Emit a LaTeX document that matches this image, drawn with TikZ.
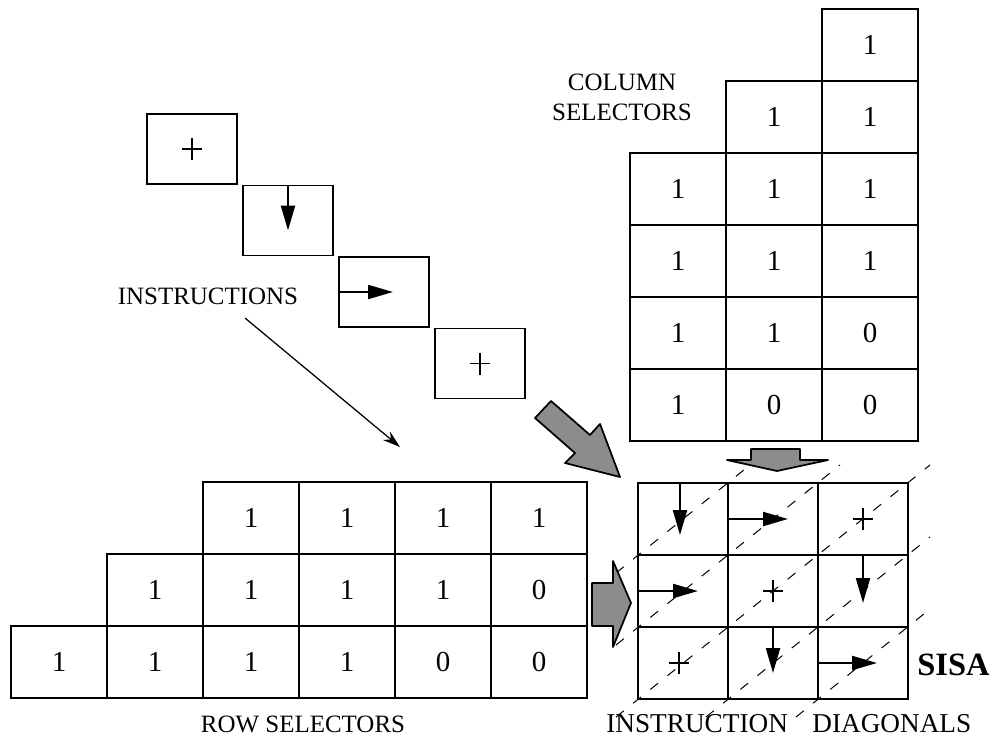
\documentclass[tikz,border=0pt]{standalone}
\usepackage{fontspec}
\setmainfont{Liberation Serif}
\usetikzlibrary{arrows.meta,calc}
\begin{document}
\begin{tikzpicture}[x=0.2mm,y=-0.2mm]
            \tikzset{
                selcell/.style={draw, line width=0.35mm, minimum width=19.2mm, minimum height=14.4mm,
                    inner sep=0pt, outer sep=0pt, font=\fontsize{16.5}{16.5}\selectfont},
                sisacell/.style={selcell, minimum width=18mm},
                instrbox/.style={draw, line width=0.3mm, minimum width=18mm, minimum height=14mm,
                    inner sep=0pt, outer sep=0pt},
                txt/.style={font=\fontsize{14.2}{17}\selectfont, inner sep=0pt, align=center},
                move/.style={line width=0.45mm, -{Triangle[length=5mm,width=2.8mm]}},
                diagline/.style={line width=0.2mm, dash pattern=on 2mm off 2.4mm},
                bigarrow/.style={draw, line width=0.35mm, fill=black!45, line join=round},
                plus/.pic={\draw[line width=0.25mm] (-10,0) -- (10,0) (0,-11) -- (0,11);}}
            \useasboundingbox (0,0) rectangle (993,740);
            % instruction stream
            \foreach \k in {0,...,3}
                \node[instrbox] (ins-\k) at (192+96*\k, 149+71.5*\k) {};
            \pic at (ins-0) {plus};
            \draw[move] (ins-1.north) -- ++(0,45);
            \draw[move] (ins-2.west) -- ++(54,0);
            \pic at (ins-3) {plus};
            \node[txt] (instr-label) at (208,296) {INSTRUCTIONS};
            \coordinate (instr-target) at (400,447);
            \draw[line width=0.25mm, -{Stealth[length=3.5mm,width=2.2mm]}] ([shift={(37,22)}]instr-label.center) -- (instr-target);
            % selectors
            \foreach \vals [count=\r from 0] in {{-,-,1,1,1,1},{-,1,1,1,1,0},{1,1,1,1,0,0}}
                \foreach \v [count=\c from 0] in \vals {
                    \if\v- \else \node[selcell] (row-\r-\c) at (59+96*\c, 518+72*\r) {\v}; \fi}
            \foreach \vals [count=\r from 0] in {{-,-,1},{-,1,1},{1,1,1},{1,1,1},{1,1,0},{1,0,0}}
                \foreach \v [count=\c from 0] in \vals {
                    \if\v- \else \node[selcell] (col-\r-\c) at (678+96*\c, 45+72*\r) {\v}; \fi}
            \node[txt] (col-label) at (622,97) {COLUMN\\SELECTORS};
            \node[txt] (row-label) at (303,724) {ROW SELECTORS};
            % SISA array
            \foreach \r in {0,1,2}
                \foreach \c in {0,1,2}
                    \node[sisacell] (sisa-\r-\c) at (683+90*\c, 519+72*\r) {};
            \draw[move] ([xshift=-0.6mm]sisa-0-0.north) -- ++(0,52);
            \draw[move] (sisa-0-1.west) -- ++(60,0);
            \pic at (sisa-0-2) {plus};
            \draw[move] (sisa-1-0.west) -- ++(60,0);
            \pic at (sisa-1-1) {plus};
            \draw[move] (sisa-1-2.north) -- ++(0,48);
            \pic at ([xshift=-0.8mm]sisa-2-0) {plus};
            \draw[move] (sisa-2-1.north) -- ++(0,46);
            \draw[move] (sisa-2-2.west) -- ++(59,0);
            \foreach \d in {1,...,5}{
                \pgfmathtruncatemacro\ia{max(0,\d-3)}
                \pgfmathtruncatemacro\ib{min(3,\d)}
                \draw[diagline] (638+90*\ia-22, 483+72*\d-72*\ia+18) -- (638+90*\ib+22, 483+72*\d-72*\ib-18);}
            \node[txt, anchor=west, font=\fontsize{15.5}{17}\selectfont] (diag-label) at (606,724) {INSTRUCTION\hspace{0.9em}DIAGONALS};
            \node[txt, anchor=west, font=\bfseries\fontsize{18.5}{18}\selectfont] (sisa-label) at (917,665) {SISA};
            % feed arrows
            \draw[bigarrow] (551,401) -- (590,435) -- (600,424) -- (620,477) -- (565,463) -- (575,453) -- (535,418) -- cycle;
            \draw[bigarrow] (751,449) -- (800,449) -- (800,460) -- (828,460) -- (777,471) -- (727,460) -- (751,460) -- cycle;
            \draw[bigarrow] (592,583) -- (613,583) -- (613,561) -- (631,603) -- (613,647) -- (613,626) -- (592,626) -- cycle;
        \end{tikzpicture}
\end{document}
